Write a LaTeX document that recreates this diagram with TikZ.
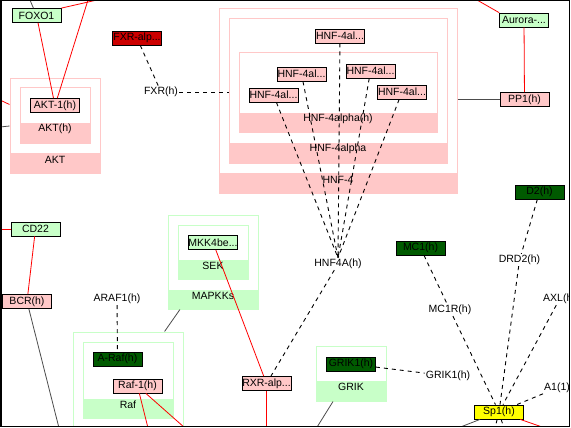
\documentclass[tikz,border=0pt]{standalone}
\usepackage{fontspec}
\setmainfont{Liberation Sans}
\usetikzlibrary{fit,calc}
\definecolor{pk}{HTML}{FFC8C8}
\definecolor{pkb}{HTML}{FFC8C8}
\definecolor{gr}{HTML}{C8FFC8}
\definecolor{grb}{HTML}{C8FFC8}
\definecolor{dg}{HTML}{005A00}
\definecolor{dr}{HTML}{CC0000}
\definecolor{yl}{HTML}{FFFF00}
\begin{document}
\begin{tikzpicture}[x=1pt,y=-1pt,
  every node/.style={font=\fontsize{10.5pt}{12pt}\selectfont},
  gene/.style={draw=black,line width=0.8pt,rectangle,minimum width=49pt,minimum height=14pt,inner sep=0pt},
  pkg/.style={gene,fill=pk},
  grg/.style={gene,fill=gr},
  dgg/.style={gene,fill=dg},
  drg/.style={gene,fill=dr},
  ylg/.style={gene,fill=yl},
  lbl/.style={inner sep=1pt},
  frameP/.style={draw=pkb,line width=1pt,inner sep=0pt},
  frameG/.style={draw=grb,line width=1pt,inner sep=0pt},
  bandP/.style={fill=pk,inner sep=0pt},
  bandG/.style={fill=gr,inner sep=0pt},
  rline/.style={draw=red,line width=0.8pt},
  dline/.style={draw=black,line width=0.9pt,dash pattern=on 4pt off 4pt},
  gline/.style={draw=black!70,line width=0.8pt}]
\useasboundingbox (0,0) rectangle (571,428);
\begin{scope}
\clip (1,1) rectangle (569,426);
% ---- group bands
\node[bandP, fit={(10,153) (100,173)}] (aktb) {AKT};
\node[bandP, fit={(20,123) (90,143)}] (akthb) {AKT(h)};
\node[bandP, fit={(219,173) (457,193)}] (hnf4b) {HNF-4};
\node[bandP, fit={(229,143) (447,163)}] (hnfab) {HNF-4alpha};
\node[bandP, fit={(239,113) (437,133)}] (hnfahb) {HNF-4alpha(h)};
\node[bandG, fit={(168,290) (258,309)}] (mapb) {MAPKKs};
\node[bandG, fit={(178,260) (248,279)}] (sekb) {SEK};
\node[bandG, fit={(83,399) (173,418)}] (rafb) {Raf};
\node[bandG, fit={(316,381) (386,401)}] (grikb) {GRIK};
% ---- group frames
\node[frameP, fit={(10,79) (100,173)}] (akto) {};
\node[frameP, fit={(20,88) (90,143)}] (akth) {};
\node[frameP, fit={(219,9) (457,193)}] (hnf4o) {};
\node[frameP, fit={(229,19) (447,163)}] (hnfa) {};
\node[frameP, fit={(239,53) (437,133)}] (hnfah) {};
\node[frameG, fit={(168,215) (258,309)}] (mapk) {};
\node[frameG, fit={(178,225) (248,279)}] (sek) {};
\node[frameG, fit={(73,332) (183,436)}] (rafo) {};
\node[frameG, fit={(83,342) (173,418)}] (raf) {};
\node[frameG, fit={(316,346) (386,401)}] (grik) {};
% ---- genes and labels
\node[grg] (foxo) at (36.5,15.5) {FOXO1};
\node[drg] (fxra) at (137,38) {FXR-alp...};
\node[lbl] (fxr) at (161,92) {FXR(h)};
\node[pkg] (akt1) at (55,105.5) {AKT-1(h)};
\node[pkg] (h1) at (340,36) {HNF-4al...};
\node[pkg] (h2) at (301.5,74) {HNF-4al...};
\node[pkg] (h3) at (370.5,71) {HNF-4al...};
\node[pkg] (h4) at (273.5,95) {HNF-4al...};
\node[pkg] (h5) at (402,92) {HNF-4al...};
\node[lbl] (hnf4a) at (338,264) {HNF4A(h)};
\node[grg] (aurora) at (524,20) {Aurora-...};
\node[pkg] (pp1) at (524.5,99.5) {PP1(h)};
\node[grg] (cd22) at (35.5,229) {CD22};
\node[pkg] (bcr) at (27,301.5) {BCR(h)};
\node[grg] (mkk4) at (213,242.5) {MKK4be...};
\node[lbl] (araf1) at (117,299) {ARAF1(h)};
\node[dgg] (araf) at (117.5,359) {A-Raf(h)};
\node[pkg] (raf1) at (137.5,386) {Raf-1(h)};
\node[pkg] (rxr) at (266.5,383.5) {RXR-alp...};
\node[dgg] (grik1n) at (351,364) {GRIK1(h)};
\node[lbl] (grik1l) at (448,376) {GRIK1(h)};
\node[dgg] (d2) at (539.5,192) {D2(h)};
\node[dgg] (mc1) at (420.5,248) {MC1(h)};
\node[lbl] (drd2) at (519.5,260) {DRD2(h)};
\node[lbl] (mc1r) at (450,310) {MC1R(h)};
\node[lbl,anchor=west] (axl) at (542,299) {AXL(h)};
\node[lbl,anchor=west] (a1) at (543,388) {A1(1)};
\node[ylg] (sp1) at (499,412) {Sp1(h)};
% ---- free ends
\coordinate (t1) at (477,0);
\coordinate (t2) at (88,0);
\coordinate (t3) at (30,0);
\coordinate (t4) at (97,0);
\coordinate (l1) at (0,100);
\coordinate (l2) at (0,127);
\coordinate (l3) at (0,229);
\coordinate (b1) at (266.5,430);
\coordinate (b2) at (314,432);
\coordinate (b3) at (59,428);
\coordinate (b4) at (148,428);
\coordinate (b5) at (185,428);
\coordinate (b6) at (458,428);
\coordinate (b7) at (494,432);
\coordinate (b8) at (505,432);
\coordinate (b9) at (545,428);
% ---- connectors
\begin{scope}[on background layer/.style={}]
\draw[rline] (akt1) -- (foxo);
\draw[rline] (akt1) -- (t2);
\draw[rline] (foxo.north east) -- (t4);
\draw[gline] (foxo) -- (t3);
\draw[rline] (l1) -- ([yshift=-26pt]akto.north west);
\draw[gline] (l2) -- (akto.west);
\draw[dline] (fxra) -- (fxr);
\draw[dline] (fxr.east) -- (hnfa.west |- fxr.east);
\foreach \h in {h1,h2,h3,h4,h5} \draw[dline] (\h) -- (hnf4a.north);
\draw[gline] (hnf4o.east |- pp1.west) -- (pp1.west);
\draw[rline] (aurora) -- (pp1);
\draw[rline] (aurora.north west) -- (t1);
\draw[gline] (mapk) -- (rafo);
\draw[rline] (mkk4) -- (rxr);
\draw[dline] (hnf4a) -- (rxr);
\draw[rline] (rxr) -- (b1);
\draw[dline] (grik1n) -- (grik1l);
\draw[gline] ([xshift=-18pt]grik.south) -- (b2);
\draw[rline] (l3) -- (cd22);
\draw[rline] (cd22) -- (bcr);
\draw[gline] (bcr) -- (b3);
\draw[dline] (araf1) -- (araf);
\draw[rline] (raf1) -- (b4);
\draw[rline] (raf1) -- (b5);
\draw[dline] (d2) -- (drd2);
\draw[dline] (drd2) -- (sp1);
\draw[dline] (mc1) -- (mc1r);
\draw[dline] (mc1r) -- (sp1);
\draw[dline] (axl) -- (sp1);
\draw[dline] (a1) -- (sp1);
\draw[gline] (sp1) -- (b6);
\draw[dline] (sp1) -- (b7);
\draw[dline] (sp1) -- (b8);
\draw[rline] (sp1) -- (b9);
\end{scope}
\end{scope}
\draw[black,line width=1.5pt] (0.75,0.75) rectangle (569.5,426.5);
\end{tikzpicture}
\end{document}
